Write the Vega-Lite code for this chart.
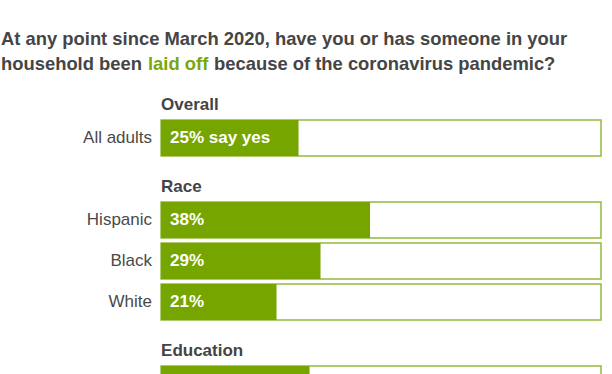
{
  "$schema": "https://vega.github.io/schema/vega-lite/v6.json",
  "background": "white",
  "padding": {"left": 1, "top": 30, "right": 5, "bottom": 5},
  "config": {
    "view": {"stroke": null},
    "font": "Liberation Sans",
    "title": {"anchor": "start", "fontSize": 18.4, "fontWeight": "bold", "color": "#454545", "font": "Liberation Sans"}
  },
  "title": {"text": "At any point since March 2020, have you or has someone in your", "offset": 6},
  "spacing": 5,
  "vconcat": [
    {
      "hconcat": [
        {"data": {"values": []}, "mark": "point", "width": 1, "height": 1, "title": {"text": "household been", "offset": 0}},
        {"data": {"values": []}, "mark": "point", "width": 1, "height": 1, "title": {"text": "laid off", "color": "#79a70c", "offset": 0}},
        {"data": {"values": []}, "mark": "point", "width": 1, "height": 1, "title": {"text": "because of the coronavirus pandemic?", "offset": 0}}
      ],
      "spacing": 5
    },
    {
      "width": 600,
      "height": {"step": 41},
      "data": {"values": [
        {"section": "Overall", "row": "Overall", "kind": "header"},
        {"section": "Overall", "row": "All adults", "kind": "bar", "pct": 25, "label": "25% say yes"},
        {"section": "Race", "row": "Race", "kind": "header"},
        {"section": "Race", "row": "Hispanic", "kind": "bar", "pct": 38, "label": "38%"},
        {"section": "Race", "row": "Black", "kind": "bar", "pct": 29, "label": "29%"},
        {"section": "Race", "row": "White", "kind": "bar", "pct": 21, "label": "21%"},
        {"section": "Education", "row": "Education", "kind": "header"},
        {"section": "Education", "row": "High school or less", "kind": "bar", "pct": 27, "label": "27%"}
      ]},
      "encoding": {
        "y": {
          "field": "row", "type": "nominal",
          "scale": {"domain": ["Overall", "All adults", "Race", "Hispanic", "Black", "White", "Education", "High school or less"], "paddingInner": 0.12, "paddingOuter": 0},
          "axis": null
        }
      },
      "layer": [
        {
          "transform": [{"filter": "datum.kind === 'bar'"}],
          "mark": {"type": "bar", "fill": "white", "stroke": "#92b940", "strokeWidth": 1.5},
          "encoding": {
            "x": {"datum": 0, "type": "quantitative", "scale": {"domain": [-29.1, 80], "nice": false, "zero": false}, "axis": null},
            "x2": {"datum": 80}
          }
        },
        {
          "transform": [{"filter": "datum.kind === 'bar'"}],
          "mark": {"type": "bar", "color": "#77a500"},
          "encoding": {
            "x": {"field": "pct", "type": "quantitative"}
          }
        },
        {
          "transform": [{"filter": "datum.kind === 'bar'"}],
          "mark": {"type": "text", "align": "left", "baseline": "middle", "dx": 9, "fontSize": 17, "fontWeight": "bold", "color": "white"},
          "encoding": {
            "x": {"datum": 0, "type": "quantitative"},
            "text": {"field": "label"}
          }
        },
        {
          "transform": [{"filter": "datum.kind === 'bar'"}],
          "mark": {"type": "text", "align": "right", "baseline": "middle", "dx": -9, "fontSize": 17, "color": "#4a4a4a"},
          "encoding": {
            "x": {"datum": 0, "type": "quantitative"},
            "text": {"field": "row"}
          }
        },
        {
          "transform": [{"filter": "datum.kind === 'header'"}],
          "mark": {"type": "text", "align": "left", "baseline": "middle", "dy": 8, "fontSize": 17, "fontWeight": "bold", "color": "#444444"},
          "encoding": {
            "x": {"datum": 0, "type": "quantitative"},
            "text": {"field": "row"}
          }
        }
      ]
    }
  ]
}
